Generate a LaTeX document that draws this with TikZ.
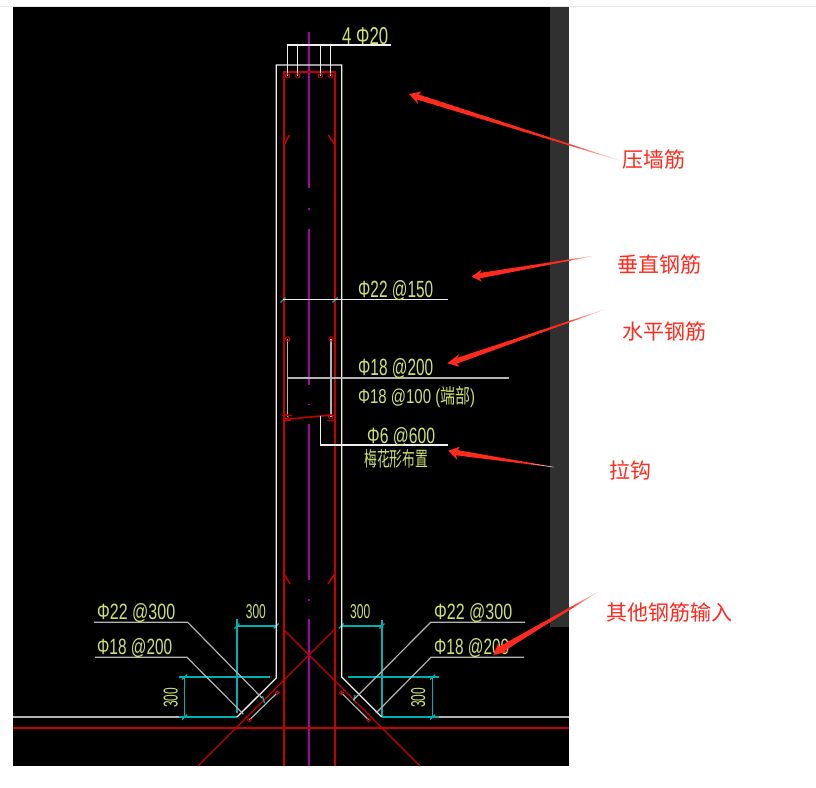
\documentclass[tikz,border=0pt]{standalone}
\usepackage{fontspec}
\usepackage{graphicx}
\newfontfamily\cadfont{Liberation Sans}
\newfontfamily\cjkfont{Noto Sans CJK SC}
\usetikzlibrary{calc}
\definecolor{cadyellow}{HTML}{D0E070}
\definecolor{wallwhite}{HTML}{EEEEEE}
\definecolor{leadgray}{HTML}{B4B4B4}
\definecolor{rebarred}{HTML}{C40000}
\definecolor{axismag}{HTML}{A800A8}
\definecolor{dimcyan}{HTML}{00B0B0}
\definecolor{notered}{HTML}{FF2A1E}
\definecolor{panelgray}{HTML}{303030}
\tikzset{
  wall/.style={draw=wallwhite,line width=1.3pt},
  lead/.style={draw=wallwhite,line width=1.1pt},
  leadg/.style={draw=leadgray,line width=1.2pt},
  rebar/.style={draw=rebarred,line width=1.45pt},
  axisline/.style={draw=axismag,line width=2pt},
  dimline/.style={draw=dimcyan,line width=1.25pt},
  dot/.style={draw=rebarred,line width=1pt,circle,inner sep=0pt,minimum size=4.4pt},
  cad/.style={text=cadyellow,inner sep=0pt,anchor=base west},
  note/.style={text=notered,inner sep=0pt,font=\fontsize{21}{21}\selectfont\cjkfont}
}
% cad text fitted to width and digit height
\newcommand{\cadt}[3]{\resizebox{#1pt}{#2pt}{\cadfont #3}}
% tapered, fading note arrow: tip, barb, barb, tail, neck width
\newcommand{\notearrow}[5]{%
  \coordinate (neck) at ($#1!.68!($#2!.5!#3$)$);
  \fill[notered] #1 -- #2 -- (neck) -- #3 -- cycle;
  \foreach \k in {0,...,39}{%
    \pgfmathsetmacro{\ta}{\k/40}
    \pgfmathsetmacro{\tb}{(\k+1.3)/40}
    \pgfmathsetmacro{\wd}{#5*(1-\ta)+.25}
    \pgfmathsetmacro{\pc}{\ta<.72?100:max(8,100-(\ta-.72)/.28*92)}
    \draw[color=notered!\pc!white,line width=\wd pt]
      ($(neck)!\ta!#4$) -- ($(neck)!\tb!#4$);
  }%
}
\begin{document}
\begin{tikzpicture}[x=1pt,y=-1pt]
\useasboundingbox (0,0) rectangle (816,787);
\fill[white] (0,0) rectangle (816,787);
\draw[color=black!9,line width=1pt] (0,6.5) -- (816,6.5);
\fill[black] (13,7) rectangle (569,766);
\fill[panelgray] (550,7) rectangle (569,627);

% axis
\draw[axisline] (308.7,32) -- (308.7,188);
\draw[axisline] (308.7,208.3) -- (308.7,210);
\draw[axisline] (308.7,229) -- (308.7,385);
\draw[axisline] (308.7,403.5) -- (308.7,405);
\draw[axisline] (308.7,424) -- (308.7,580);
\draw[axisline] (308.7,599) -- (308.7,600.5);
\draw[axisline] (308.7,619) -- (308.7,766);

% red reinforcement
\draw[rebar] (283.8,766) -- (283.8,71.8) -- (335,71.8) -- (335,766);
\draw[rebar] (284,145) -- (289.5,135);
\draw[rebar] (335,145) -- (328.3,135);
\draw[rebar] (284,574) -- (290,584);
\draw[rebar] (334.5,574) -- (328,584);
\draw[draw=rebarred,line width=1.4pt] (13,727.8) -- (569,727.8);
\draw[draw=rebarred,line width=1.1pt] (283.3,629.3) -- (420,766);
\draw[draw=rebarred,line width=1.1pt] (335,629) -- (198,766);

% corner dims (below the wall)
\draw[dimline] (237,619) -- (237,713);
\draw[dimline] (237,626) -- (276.3,626);
\draw[dimline] (276.3,626) -- (276.3,672);
\draw[dimline] (179,677) -- (270,677);
\draw[dimline] (184.7,677) -- (184.7,717);
\draw[dimline] (179,717) -- (237,717);
\draw[dimline] (382,620) -- (382,716);
\draw[dimline] (341.3,626) -- (382,626);
\draw[dimline] (341.3,626) -- (341.3,672);
\draw[dimline] (348.3,677) -- (439,677);
\draw[dimline] (432.7,677) -- (432.7,717);
\draw[dimline] (382,717) -- (439,717);
\foreach \px/\py in {237/626,276.3/626,341.3/626,382/626,184.7/677,184.7/717,432.7/677,432.7/717,283/300,335/300}{
  \draw[dimline] (\px-2.5,\py+2.5) -- (\px+2.5,\py-2.5);
}
\draw[dimline] (264.5,703) -- (262.5,696);
\draw[dimline] (354,701) -- (355,695);

% wall outline
\draw[leadg] (13,717) -- (179,717);
\draw[leadg] (439,717) -- (569,717);
\draw[wall] (237,717) -- (276.3,678) -- (276.3,65) -- (341.7,65) -- (341.7,677) -- (381.7,717);

% top bars
\draw[lead] (287.5,76) -- (287.5,45) -- (391,45);
\draw[lead] (297.7,76) -- (297.7,45);
\draw[lead] (320.5,76) -- (320.5,45);
\draw[lead] (330.7,76) -- (330.7,45);
\foreach \px in {287.5,297.7,320.5,330.7}{
  \node[dot] at (\px,76) {};
}

% mid-wall leaders and bars
\draw[lead] (283,299.5) -- (448,299.5);
\draw[leadg] (287.7,339) -- (287.7,416.7);
\draw[leadg] (331,339) -- (331,416.7);
\node[dot] at (287.7,339) {};
\node[dot] at (331,339) {};
\draw[leadg] (287,378) -- (509,378);
\draw[draw=rebarred,line width=1.6pt] (285,419.5) -- (331,415);
\draw[draw=rebarred,line width=1pt] (282,415) -- (292,415) (283,420.5) -- (291,420.5);
\draw[draw=rebarred,line width=1pt] (326,415) -- (336,415) (327,420.5) -- (335,420.5);
\node[dot] at (286.5,416.7) {};
\node[dot] at (330.5,416.7) {};
\draw[lead] (320.5,415.5) -- (320.5,445) -- (448,445);

% corner leaders and bars
\draw[leadg] (94,622.3) -- (187.7,622.3) -- (262,698);
\draw[leadg] (95,657.3) -- (187,657.3) -- (243.3,714);
\draw[leadg] (525,622.3) -- (430.7,622.3) -- (353.3,700);
\draw[leadg] (524,657.3) -- (431,657.3) -- (376,713);
\draw[leadg] (277.3,692.7) -- (249.3,720);
\draw[leadg] (341.3,692.7) -- (368.7,720);
\node[dot,minimum size=3.6pt] at (277.3,692.7) {};
\node[dot,minimum size=3.6pt] at (249.3,720) {};
\node[dot,minimum size=3.6pt] at (341.3,692.7) {};
\node[dot,minimum size=3.6pt] at (368.7,720) {};

% CAD texts
\node[cad] (t0) at (342,44) {\cadt{46}{17}{4 Φ20}};
\node[cad] (t1) at (358,297) {\cadt{75}{17}{Φ22 @150}};
\node[cad] (t2) at (358,375) {\cadt{75}{17}{Φ18 @200}};
\node[cad] (t3) at (358,403) {\cadt{117}{17}{Φ18 @100 ({\cjkfont 端部})}};
\node[cad] (t4) at (367,443) {\cadt{68}{16}{Φ6 @600}};
\node[cad] (t5) at (364,466) {\cadt{64}{17}{\cjkfont 梅花形布置}};
\node[cad] (t6) at (97,619) {\cadt{78}{16}{Φ22 @300}};
\node[cad] (t7) at (97,654) {\cadt{75}{16}{Φ18 @200}};
\node[cad] (t8) at (434,619) {\cadt{78}{16}{Φ22 @300}};
\node[cad] (t9) at (434,654) {\cadt{75}{16}{Φ18 @200}};
\node[cad] (t10) at (245.7,618) {\cadt{20}{14}{300}};
\node[cad] (t11) at (350,618) {\cadt{20}{14}{300}};
\node[cad,rotate=90] (t12) at (177.5,708) {\cadt{20}{14}{300}};
\node[cad,rotate=90] (t13) at (425,708) {\cadt{20}{14}{300}};

% notes
\node[note] (n1) at (653.5,160) {压墙筋};
\node[note] (n2) at (659.5,264.5) {垂直钢筋};
\node[note] (n3) at (664,332) {水平钢筋};
\node[note] (n4) at (630,470) {拉钩};
\node[note] (n5) at (669,612.5) {其他钢筋输入};

% note arrows
\notearrow{(409,94)}{(421.7,91.5)}{(418,104)}{(618,160)}{5}
\notearrow{(471.7,276.7)}{(481.7,269.3)}{(481.7,281.7)}{(593,256)}{5}
\notearrow{(447.3,363.3)}{(459.3,354)}{(459.3,366.7)}{(603,310)}{5}
\notearrow{(448.3,450.7)}{(460,446.7)}{(457.3,460)}{(553,467)}{5}
\notearrow{(493.3,655)}{(498.3,643)}{(508.3,651.7)}{(596.7,592.7)}{6}
\end{tikzpicture}
\end{document}
